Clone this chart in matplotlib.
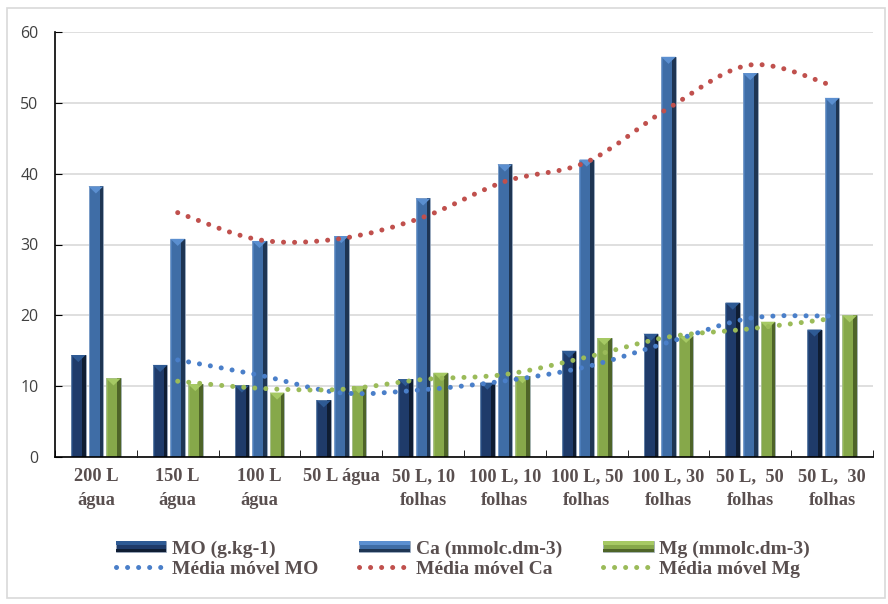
import matplotlib
matplotlib.use("Agg")
import matplotlib.pyplot as plt
import numpy as np
from matplotlib.path import Path
from matplotlib.patches import PathPatch, Rectangle, Polygon
from matplotlib.lines import Line2D
from matplotlib.legend_handler import HandlerPatch

categories = ["200 L\nágua", "150 L\nágua", "100 L\nágua", "50 L água",
              "50 L, 10\nfolhas", "100 L, 10\nfolhas", "100 L, 50\nfolhas",
              "100 L, 30\nfolhas", "50 L,  50\nfolhas", "50 L,  30\nfolhas"]
mo = [14.4, 13.0, 10.1, 8.0, 11.0, 10.5, 15.0, 17.4, 21.8, 18.0]
ca = [38.2, 30.8, 30.5, 31.2, 36.5, 41.3, 42.0, 56.5, 54.2, 50.7]
mg = [11.1, 10.3, 9.1, 10.0, 11.9, 11.4, 16.8, 17.1, 19.1, 20.0]
# moving averages (period 2), starting at second category
ma_mo = [13.7, 11.55, 9.05, 9.5, 10.75, 12.75, 16.2, 19.6, 19.9]
ma_ca = [34.5, 30.65, 30.85, 33.85, 38.9, 41.65, 49.25, 55.35, 52.45]
ma_mg = [10.7, 9.7, 9.55, 10.95, 11.65, 14.1, 16.95, 18.1, 19.55]
yticks = [0, 10, 20, 30, 40, 50, 60]

# (body, dark edge, light top)
c_mo = ("#1F3B6A", "#0F1D33", "#2E5A94")
c_ca = ("#3F6DA6", "#1E3553", "#5B8FD0")
c_mg = ("#86A84A", "#4E6428", "#A6C964")
c_mamo = "#4A7FC9"
c_maca = "#C0504D"
c_mamg = "#9BBB59"
txt_col = "#594F4F"

fig = plt.figure(figsize=(8.88, 6.04), dpi=100)
ax = fig.add_axes([55/888, 1-457/604, (873-55)/888, (457-32)/604])

x = np.arange(len(categories))
w = 0.18
off = 0.215
tri = 1.0  # depth of bevel tip in data units
for vals, dx, cols in [(mo, -off, c_mo), (ca, 0, c_ca), (mg, off, c_mg)]:
    bars = ax.bar(x + dx, vals, width=w, color=cols[0], edgecolor="#9aa7b8",
                  linewidth=0.5, zorder=2)
    for b in bars:
        bx, bw, bh = b.get_x(), b.get_width(), b.get_height()
        ax.add_patch(Rectangle((bx + bw * 0.75, 0), bw * 0.25, bh,
                               facecolor=cols[1], edgecolor="none", zorder=2.1))
        ax.add_patch(Rectangle((bx, 0), bw * 0.12, bh, facecolor=cols[2],
                               edgecolor="none", alpha=0.5, zorder=2.1))
        ax.add_patch(Polygon([[bx, bh], [bx + bw, bh], [bx + bw / 2, bh - tri]],
                             closed=True, facecolor=cols[2], edgecolor="none",
                             zorder=2.2))


def smooth_path(xs, ys):
    pts = np.column_stack([xs, ys])
    n = len(pts)
    verts = [pts[0]]
    codes = [Path.MOVETO]
    for i in range(n - 1):
        p0 = pts[i - 1] if i > 0 else pts[i]
        p1 = pts[i]
        p2 = pts[i + 1]
        p3 = pts[i + 2] if i + 2 < n else pts[i + 1]
        c1 = p1 + (p2 - p0) / 6
        c2 = p2 - (p3 - p1) / 6
        verts += [c1, c2, p2]
        codes += [Path.CURVE4] * 3
    return Path(verts, codes)


dot = (0, (0.01, 2.2))
for vals, col in [(ma_mo, c_mamo), (ma_ca, c_maca), (ma_mg, c_mamg)]:
    p = PathPatch(smooth_path(x[1:], vals), fill=False, edgecolor=col,
                  linewidth=3.6, linestyle=dot, zorder=3)
    p.set_capstyle("round")
    ax.add_patch(p)

ax.set_xlim(-0.5, len(categories) - 0.5)
ax.set_ylim(0, 60)
ax.set_yticks(yticks)
ax.set_yticklabels([str(t) for t in yticks], fontfamily="Open Sans",
                   fontsize=11.4, color="#404040")
ax.yaxis.grid(True, color="#D9D9D9", linewidth=1.2, zorder=0)
ax.set_axisbelow(True)
ax.set_xticks(x)
ax.set_xticklabels(categories, fontfamily="Liberation Serif", fontweight="bold",
                   fontsize=13.2, color=txt_col, linespacing=1.5)
ax.set_xticks(np.arange(-0.5, len(categories)), minor=True)
ax.tick_params(axis="x", which="major", length=0, pad=8)
ax.tick_params(axis="x", which="minor", length=5, direction="in", color="#000000")
ax.tick_params(axis="y", length=5, direction="in", color="#000000", pad=12)
for s in ["top", "right"]:
    ax.spines[s].set_visible(False)
for s in ["left", "bottom"]:
    ax.spines[s].set_color("#000000")
    ax.spines[s].set_linewidth(1.2)


class BevelHandler(HandlerPatch):
    def create_artists(self, legend, orig_handle, xdescent, ydescent, width,
                       height, fontsize, trans):
        cols = orig_handle._cols
        body = Rectangle((-xdescent, -ydescent), width, height,
                         facecolor=cols[0], edgecolor="#9aa7b8", linewidth=0.5,
                         transform=trans)
        dark = Rectangle((-xdescent, -ydescent), width, height * 0.3,
                         facecolor=cols[1], edgecolor="none", transform=trans)
        light = Rectangle((-xdescent, -ydescent + height * 0.7), width, height * 0.3,
                          facecolor=cols[2], edgecolor="none", transform=trans)
        return [body, dark, light]


hs = []
for cols in (c_mo, c_ca, c_mg):
    r = Rectangle((0, 0), 1, 1)
    r._cols = cols
    hs.append(r)
l_mo = Line2D([], [], color=c_mamo, linewidth=3.6, linestyle=dot, dash_capstyle="round")
l_ca = Line2D([], [], color=c_maca, linewidth=3.6, linestyle=dot, dash_capstyle="round")
l_mg = Line2D([], [], color=c_mamg, linewidth=3.6, linestyle=dot, dash_capstyle="round")
handles = [hs[0], l_mo, hs[1], l_ca, hs[2], l_mg]
labels = ["MO (g.kg-1)", "Média móvel MO", "Ca (mmolc.dm-3)", "Média móvel Ca",
          "Mg (mmolc.dm-3)", "Média móvel Mg"]
fig.legend(handles, labels, ncol=3, loc="center", bbox_to_anchor=(463/888, 1-559/604),
           frameon=False, prop={"family": "Liberation Serif", "weight": "bold", "size": 14},
           labelcolor=txt_col, handlelength=2.6, handleheight=0.5,
           handletextpad=0.3, columnspacing=2.1, labelspacing=0.15,
           handler_map={Rectangle: BevelHandler()})

fig.patches.append(Rectangle((7/888, 1-598/604), 878/888, 590/604,
                             transform=fig.transFigure, fill=False,
                             edgecolor="#D9D9D9", linewidth=1.2))

fig.savefig("out.png", dpi=100)
